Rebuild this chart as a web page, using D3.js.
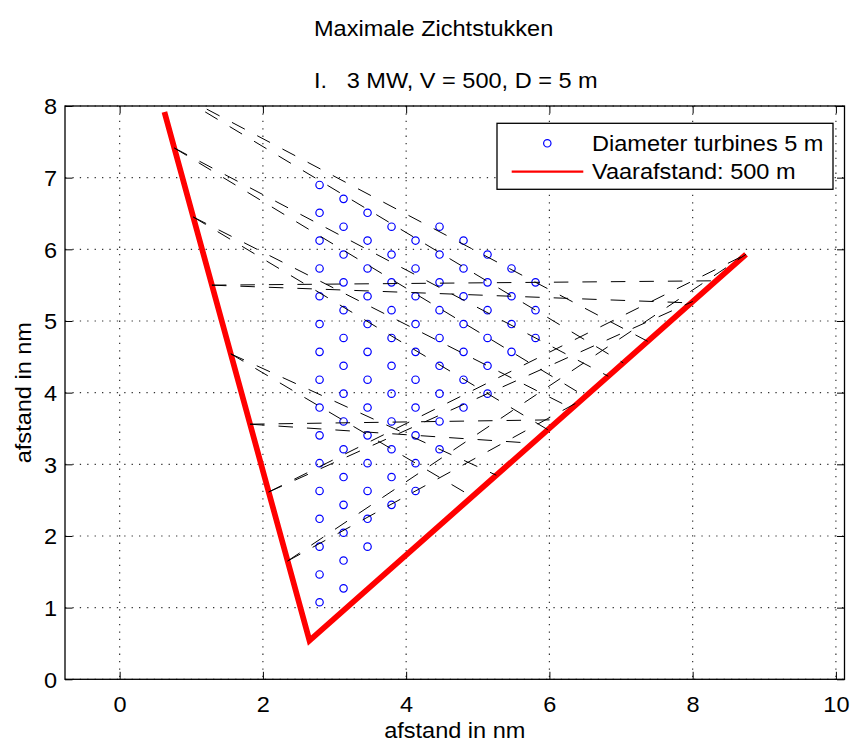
<!DOCTYPE html>
<html><head><meta charset="utf-8">
<script src="https://cdn.jsdelivr.net/npm/d3@7"></script>
<style>
body{margin:0;background:#fff;}
text{font-family:"Liberation Sans",Arial,Helvetica,sans-serif;fill:#000;}
</style>
</head><body>
<svg id="c" width="850" height="742"></svg>
<script>
// ---------- data ----------
const xTicks = [0, 2, 4, 6, 8, 10];
const yTicks = [0, 1, 2, 3, 4, 5, 6, 7, 8];
const titleLines = ["Maximale Zichtstukken", "I.   3 MW, V = 500, D = 5 m"];
const xLabel = "afstand in nm";
const yLabel = "afstand in nm";
const legendLabels = ["Diameter turbines 5 m", "Vaarafstand: 500 m"];

// turbine columns (x in nm) and the y positions in each column (nm)
const turbineColumnX = [2.791, 3.126, 3.461, 3.796, 4.131, 4.466, 4.801, 5.136, 5.471, 5.806];
const turbineColumnY = [
  [1.075,1.463,1.851,2.240,2.628,3.016,3.404,3.792,4.181,4.569,4.957,5.345,5.733,6.122,6.510,6.898],
  [1.269,1.657,2.045,2.434,2.822,3.210,3.598,3.986,4.375,4.763,5.151,5.539,5.927,6.316,6.704],
  [1.851,2.240,2.628,3.016,3.404,3.792,4.181,4.569,4.957,5.345,5.733,6.122,6.510],
  [2.434,2.822,3.210,3.598,3.986,4.375,4.763,5.151,5.539,5.927,6.316],
  [2.628,3.016,3.404,3.792,4.181,4.569,4.957,5.345,5.733,6.122],
  [3.210,3.598,3.986,4.375,4.763,5.151,5.539,5.927,6.316],
  [3.792,4.181,4.569,4.957,5.345,5.733,6.122],
  [3.986,4.375,4.763,5.151,5.539,5.927],
  [4.569,4.957,5.345,5.733],
  [4.763,5.151,5.539]
];

// sailing route (vaarafstand 500 m)
const routeX = [0.625, 2.650, 8.745];
const routeY = [7.917, 0.540, 5.930];

// sight lines (start on route, end on opposite leg), nm
const sightX1 = [0.512,0.512,0.763,0.763,1.027,1.027,1.288,1.288,1.552,1.552,1.821,1.821,2.081,2.081,2.345,2.345];
const sightY1 = [8.327,8.327,7.414,7.414,6.451,6.451,5.500,5.500,4.541,4.541,3.560,3.560,2.614,2.614,1.651,1.651];
const sightX2 = [7.372,7.032,6.822,6.502,6.314,5.977,8.327,7.978,5.259,4.921,6.135,5.764,8.002,8.745,6.438,8.745];
const sightY2 = [4.716,4.415,4.229,3.946,3.780,3.483,5.561,5.252,2.848,2.549,3.622,3.294,5.273,5.930,3.890,5.930];

// ---------- layout ----------
const L = 65, R = 844.5, T = 106, B = 679.3;
const FS = 22, SX = 1.07;
const svg = d3.select("#c");
const x = d3.scaleLinear().domain([-0.763, 10.12]).range([L, R]);
const y = d3.scaleLinear().domain([0, 8]).range([B, T]);

svg.append("rect").attr("width", 850).attr("height", 742).attr("fill", "#fff");

// grid
const grid = svg.append("g").attr("stroke", "#333").attr("stroke-width", 1.2).attr("stroke-dasharray", "1.3,6.1");
grid.selectAll(".gx").data(xTicks).join("line")
  .attr("x1", d => x(d)).attr("x2", d => x(d)).attr("y1", T).attr("y2", B);
grid.selectAll(".gy").data(yTicks).join("line")
  .attr("x1", L).attr("x2", R).attr("y1", d => y(d)).attr("y2", d => y(d));

// clip
svg.append("clipPath").attr("id", "pc").append("rect")
  .attr("x", L).attr("y", T).attr("width", R - L).attr("height", B - T);
const plot = svg.append("g").attr("clip-path", "url(#pc)");

// turbines
const turbines = [];
turbineColumnX.forEach((cx, i) => turbineColumnY[i].forEach(cy => turbines.push([cx, cy])));
plot.append("g").selectAll("circle").data(turbines).join("circle")
  .attr("cx", d => x(d[0])).attr("cy", d => y(d[1])).attr("r", 3.7)
  .attr("fill", "none").attr("stroke", "#0000ff").attr("stroke-width", 1.2);

// route
const route = routeX.map((v, i) => [v, routeY[i]]);
plot.append("path").datum(route)
  .attr("d", d3.line().x(d => x(d[0])).y(d => y(d[1])))
  .attr("fill", "none").attr("stroke", "#ff0000").attr("stroke-width", 5.7)
  .attr("stroke-linejoin", "miter").attr("stroke-linecap", "butt");

// sight lines
const sights = sightX1.map((v, i) => ({x1: v, y1: sightY1[i], x2: sightX2[i], y2: sightY2[i]}));
plot.append("g").selectAll("line").data(sights).join("line")
  .attr("x1", d => x(d.x1)).attr("y1", d => y(d.y1))
  .attr("x2", d => x(d.x2)).attr("y2", d => y(d.y2))
  .attr("stroke", "#000").attr("stroke-width", 1).attr("stroke-dasharray", "14.5,14");

// axes
const tk = 7.5;
function styleAxis(g) {
  g.select(".domain").remove();
  g.selectAll(".tick line").attr("stroke", "#000").attr("stroke-width", 1);
  g.selectAll("text").attr("font-size", FS).attr("font-family", "Liberation Sans, Arial, sans-serif").attr("fill", "#000");
}
const gxB = svg.append("g").attr("transform", `translate(0,${B})`)
  .call(d3.axisBottom(x).tickValues(xTicks).tickSizeInner(-tk).tickSizeOuter(0).tickFormat(d3.format("d")));
styleAxis(gxB);
gxB.selectAll("text").attr("y", 33).attr("dy", 0).attr("transform", `scale(${SX},1)`);
const gxT = svg.append("g").attr("transform", `translate(0,${T})`)
  .call(d3.axisTop(x).tickValues(xTicks).tickSizeInner(-tk).tickSizeOuter(0).tickFormat(""));
styleAxis(gxT);
const gyL = svg.append("g").attr("transform", `translate(${L},0)`)
  .call(d3.axisLeft(y).tickValues(yTicks).tickSizeInner(-tk).tickSizeOuter(0).tickFormat(d3.format("d")));
styleAxis(gyL);
gyL.selectAll("text").attr("x", -8 / SX).attr("dy", "0.36em").attr("transform", `scale(${SX},1)`);
const gyR = svg.append("g").attr("transform", `translate(${R},0)`)
  .call(d3.axisRight(y).tickValues(yTicks).tickSizeInner(-tk).tickSizeOuter(0).tickFormat(""));
styleAxis(gyR);

// box
svg.append("rect").attr("x", L).attr("y", T).attr("width", R - L).attr("height", B - T)
  .attr("fill", "none").attr("stroke", "#000").attr("stroke-width", 1.3);

// texts
function addText(px, py, str, anchor, rot) {
  const g = svg.append("g").attr("transform", `translate(${px},${py})` + (rot ? ` rotate(${rot})` : "") + ` scale(${SX},1)`);
  g.append("text").attr("text-anchor", anchor).attr("font-size", FS)
    .style("white-space", "pre").text(str);
}
addText(314, 36, titleLines[0], "start");
addText(314, 88, titleLines[1], "start");
addText((L + R) / 2, 737.5, xLabel, "middle");
addText(30.5, (T + B) / 2, yLabel, "middle", -90);

// legend
const lg = svg.append("g");
lg.append("rect").attr("x", 497).attr("y", 123.3).attr("width", 336).attr("height", 66)
  .attr("fill", "#fff").attr("stroke", "#000").attr("stroke-width", 1.3);
lg.append("circle").attr("cx", 547.3).attr("cy", 143.3).attr("r", 3.7)
  .attr("fill", "none").attr("stroke", "#0000ff").attr("stroke-width", 1.2);
lg.append("line").attr("x1", 511.7).attr("x2", 583.3).attr("y1", 171.7).attr("y2", 171.7)
  .attr("stroke", "#ff0000").attr("stroke-width", 2.3);
function addLegText(py, str) {
  lg.append("g").attr("transform", `translate(592,${py}) scale(${SX},1)`)
    .append("text").attr("font-size", FS).text(str);
}
addLegText(150.7, legendLabels[0]);
addLegText(179.3, legendLabels[1]);
</script>
</body></html>
